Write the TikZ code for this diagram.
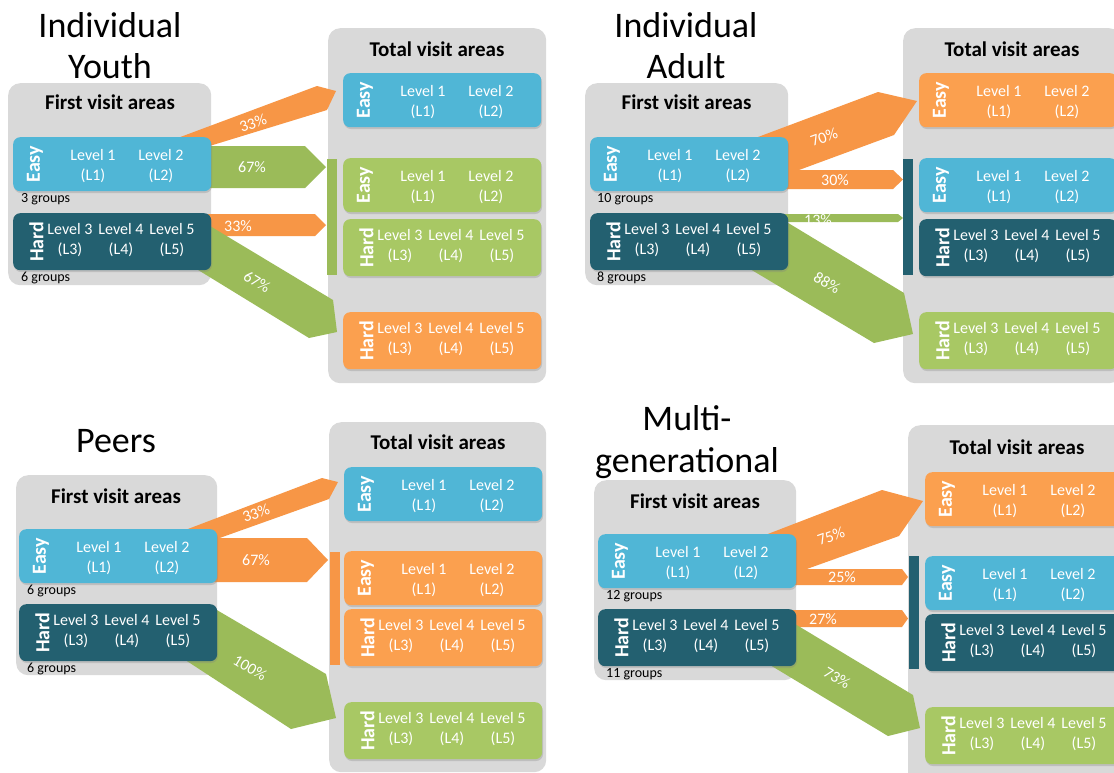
\documentclass[tikz,border=0pt]{standalone}
\usepackage{fontspec}
\setmainfont{Carlito}
\usetikzlibrary{shadows}

\definecolor{panelgray}{HTML}{D9D9D9}
\definecolor{easyblue}{HTML}{50B6D6}
\definecolor{hardteal}{HTML}{236070}
\definecolor{boxgreen}{HTML}{A8C864}
\definecolor{boxorange}{HTML}{FBA04F}
\definecolor{flowgreen}{HTML}{9BBB59}
\definecolor{floworange}{HTML}{F79646}

\tikzset{
  panelbox/.style={fill=panelgray, rounded corners=12pt, inner sep=0pt, anchor=north west},
  areabox/.style={rounded corners=7pt, inner sep=0pt, minimum width=198pt, anchor=north west,
    drop shadow={opacity=0.3, shadow xshift=0.8pt, shadow yshift=-1.8pt}},
  bar/.style={inner sep=0pt, anchor=north west, minimum width=10pt},
  tagtext/.style={rotate=90, text=white, font=\fontsize{20}{24}\selectfont\bfseries, inner sep=0pt},
  leveltext/.style={anchor=base, text=white, font=\fontsize{16}{19}\selectfont, inner sep=0pt},
  heading/.style={font=\fontsize{21}{25}\selectfont\bfseries, inner sep=0pt},
  grouptext/.style={anchor=base west, font=\fontsize{14}{17}\selectfont, inner sep=0pt},
  bigtitle/.style={anchor=base, font=\fontsize{36}{43}\selectfont, inner sep=0pt},
  pct/.style={text=white, font=\fontsize{16}{19}\selectfont, inner sep=0pt},
}

% Easy area: name, west x, top y, fill colour
\newcommand\EasyArea[4]{%
  \node[areabox, fill=#4, minimum height=54pt] (#1) at (#2,#3) {};
  \node[tagtext] (#1-tag) at ([xshift=22pt]#1.west) {Easy};
  \node[leveltext] (#1-l1) at ([xshift=80pt,yshift=4pt]#1.west) {Level 1};
  \node[leveltext] (#1-c1) at ([xshift=80pt,yshift=-16pt]#1.west) {(L1)};
  \node[leveltext] (#1-l2) at ([xshift=148pt,yshift=4pt]#1.west) {Level 2};
  \node[leveltext] (#1-c2) at ([xshift=148pt,yshift=-16pt]#1.west) {(L2)};
}
% Hard area: name, west x, top y, fill colour
\newcommand\HardArea[4]{%
  \node[areabox, fill=#4, minimum height=57pt] (#1) at (#2,#3) {};
  \node[tagtext] (#1-tag) at ([xshift=23.5pt]#1.west) {Hard};
  \node[leveltext] (#1-l3) at ([xshift=57pt,yshift=7pt]#1.west) {Level 3};
  \node[leveltext] (#1-c3) at ([xshift=57pt,yshift=-13pt]#1.west) {(L3)};
  \node[leveltext] (#1-l4) at ([xshift=108pt,yshift=7pt]#1.west) {Level 4};
  \node[leveltext] (#1-c4) at ([xshift=108pt,yshift=-13pt]#1.west) {(L4)};
  \node[leveltext] (#1-l5) at ([xshift=159pt,yshift=7pt]#1.west) {Level 5};
  \node[leveltext] (#1-c5) at ([xshift=159pt,yshift=-13pt]#1.west) {(L5)};
}

\begin{document}
\begin{tikzpicture}[x=1pt,y=-1pt]
\useasboundingbox (0,0) rectangle (1114,772);
\fill[white] (0,0) rectangle (1114,772);
\clip (0,0) rectangle (1114,772);

% ---------------- Individual Youth ----------------
\node[bigtitle] (iyA) at (110,37) {Individual};
\node[bigtitle] (iyB) at (110,78) {Youth};
\node[panelbox, minimum width=203pt, minimum height=202pt] (iyFirst) at (8,83) {};
\node[heading] (iyFirstH) at (110,102) {First visit areas};
\node[panelbox, minimum width=218pt, minimum height=355pt] (iyTotal) at (328,28) {};
\node[heading] (iyTotalH) at (437,49.5) {Total visit areas};

\fill[floworange] (175,139) -- (317,86) -- (336,91) -- (327,110) -- (190,152) -- cycle;
\fill[flowgreen] (200,146) -- (305,146) -- (326,167) -- (305,188) -- (200,188) -- cycle;
\fill[floworange] (200,214) -- (315,214) -- (326,225) -- (315,236) -- (200,236) -- cycle;
\fill[flowgreen] (200,220) -- (333,300) -- (337,332) -- (309,338) -- (190,265) -- cycle;
\node[bar, fill=flowgreen, minimum height=116pt] (iyBar) at (327,159) {};

\EasyArea{iyE}{13}{137}{easyblue}
\HardArea{iyH}{13}{213}{hardteal}
\EasyArea{iyTE}{343}{73}{easyblue}
\EasyArea{iyGE}{343}{158}{boxgreen}
\HardArea{iyGH}{343}{219}{boxgreen}
\HardArea{iyOH}{343}{312}{boxorange}
\node[grouptext] (iyEg) at ([xshift=8pt,yshift=-11.5pt]iyE.south west) {3 groups};
\node[grouptext] (iyHg) at ([xshift=8pt,yshift=-11.5pt]iyH.south west) {6 groups};

\node[pct, rotate=20] (iyP1) at (253,123) {33\%};
\node[pct] (iyP2) at (252,167) {67\%};
\node[pct] (iyP3) at (238,226) {33\%};
\node[pct, rotate=-31] (iyP4) at (257,282) {67\%};

% ---------------- Individual Adult ----------------
\node[bigtitle] (iaA) at (686,37) {Individual};
\node[bigtitle] (iaB) at (686,78) {Adult};
\node[panelbox, minimum width=203pt, minimum height=202pt] (iaFirst) at (585,83) {};
\node[heading] (iaFirstH) at (686.5,102) {First visit areas};
\node[panelbox, minimum width=218pt, minimum height=355pt] (iaTotal) at (903,28) {};
\node[heading] (iaTotalH) at (1012,49.5) {Total visit areas};

\fill[floworange] (750,140) -- (878,92) -- (917,101) -- (894,135) -- (780,177) -- cycle;
\fill[floworange] (780,170) -- (893,170) -- (903,179.5) -- (893,189) -- (780,189) -- cycle;
\fill[flowgreen] (780,214) -- (898,214) -- (903,218) -- (898,222) -- (780,222) -- cycle;
\fill[flowgreen] (780,218) -- (904,293) -- (913,334) -- (874,343) -- (745,266) -- cycle;
\node[bar, fill=hardteal, minimum height=116pt] (iaBar) at (903,159) {};

\EasyArea{iaE}{590}{137}{easyblue}
\HardArea{iaH}{590}{213}{hardteal}
\EasyArea{iaTE}{919}{73}{boxorange}
\EasyArea{iaBE}{919}{158}{easyblue}
\HardArea{iaBH}{919}{219}{hardteal}
\HardArea{iaGH}{919}{312}{boxgreen}
\node[grouptext] (iaEg) at ([xshift=7pt,yshift=-11.5pt]iaE.south west) {10 groups};
\node[grouptext] (iaHg) at ([xshift=7pt,yshift=-11.5pt]iaH.south west) {8 groups};

\node[pct, rotate=20] (iaP1) at (824,137) {70\%};
\node[pct] (iaP2) at (835,180) {30\%};
\node[pct, anchor=base] (iaP3) at (818,225) {13\%};
\node[pct, rotate=-31] (iaP4) at (827,283) {88\%};

% ---------------- Peers ----------------
\node[bigtitle] (peA) at (116,452) {Peers};
\node[panelbox, minimum width=201pt, minimum height=200pt] (peFirst) at (16,475) {};
\node[heading] (peFirstH) at (116,496) {First visit areas};
\node[panelbox, minimum width=217pt, minimum height=350pt] (peTotal) at (329,422) {};
\node[heading] (peTotalH) at (438,442) {Total visit areas};

\fill[floworange] (180,532) -- (322,478) -- (338,482) -- (329,499) -- (200,545) -- cycle;
\fill[floworange] (200,538) -- (307,538) -- (328,560) -- (307,582) -- (200,582) -- cycle;
\fill[flowgreen] (210,606) -- (326,674) -- (336,718) -- (291,729) -- (170,650) -- cycle;
\node[bar, fill=floworange, minimum height=113pt] (peBar) at (330,552) {};

\EasyArea{peE}{19}{529}{easyblue}
\HardArea{peH}{19}{604}{hardteal}
\EasyArea{peTE}{344}{467}{easyblue}
\EasyArea{peOE}{344}{551}{boxorange}
\HardArea{peOH}{344}{609}{boxorange}
\HardArea{peGH}{344}{702}{boxgreen}
\node[grouptext] (peEg) at ([xshift=8pt,yshift=-11.5pt]peE.south west) {6 groups};
\node[grouptext] (peHg) at ([xshift=8pt,yshift=-11.5pt]peH.south west) {6 groups};

\node[pct, rotate=20] (peP1) at (256,513) {33\%};
\node[pct] (peP2) at (256,560) {67\%};
\node[pct, rotate=-31] (peP3) at (250,668) {100\%};

% ---------------- Multi-generational ----------------
\node[bigtitle] (mgA) at (687,430) {Multi-};
\node[bigtitle] (mgB) at (687,472) {generational};
\node[panelbox, minimum width=202pt, minimum height=200pt] (mgFirst) at (594,480) {};
\node[heading] (mgFirstH) at (695,501) {First visit areas};
\node[panelbox, minimum width=218pt, minimum height=360pt] (mgTotal) at (908,425) {};
\node[heading] (mgTotalH) at (1017,447) {Total visit areas};

\fill[floworange] (760,537) -- (882,490) -- (923,501) -- (899,536) -- (790,575) -- cycle;
\fill[floworange] (785,569) -- (902,569) -- (908,577) -- (902,585) -- (785,585) -- cycle;
\fill[floworange] (785,610) -- (902,610) -- (908,618.5) -- (902,627) -- (785,627) -- cycle;
\fill[flowgreen] (785,618) -- (913,695) -- (920,728) -- (888,736) -- (760,659) -- cycle;
\node[bar, fill=hardteal, minimum height=113pt] (mgBar) at (909,556) {};

\EasyArea{mgE}{598}{534}{easyblue}
\HardArea{mgH}{598}{609}{hardteal}
\EasyArea{mgTE}{925}{472}{boxorange}
\EasyArea{mgBE}{925}{556}{easyblue}
\HardArea{mgBH}{925}{614}{hardteal}
\HardArea{mgGH}{925}{707}{boxgreen}
\node[grouptext] (mgEg) at ([xshift=8pt,yshift=-11.5pt]mgE.south west) {12 groups};
\node[grouptext] (mgHg) at ([xshift=8pt,yshift=-11.5pt]mgH.south west) {11 groups};

\node[pct, rotate=20] (mgP1) at (831,536) {75\%};
\node[pct] (mgP2) at (842,577) {25\%};
\node[pct] (mgP3) at (823,619) {27\%};
\node[pct, rotate=-31] (mgP4) at (837,678) {73\%};
\end{tikzpicture}
\end{document}
